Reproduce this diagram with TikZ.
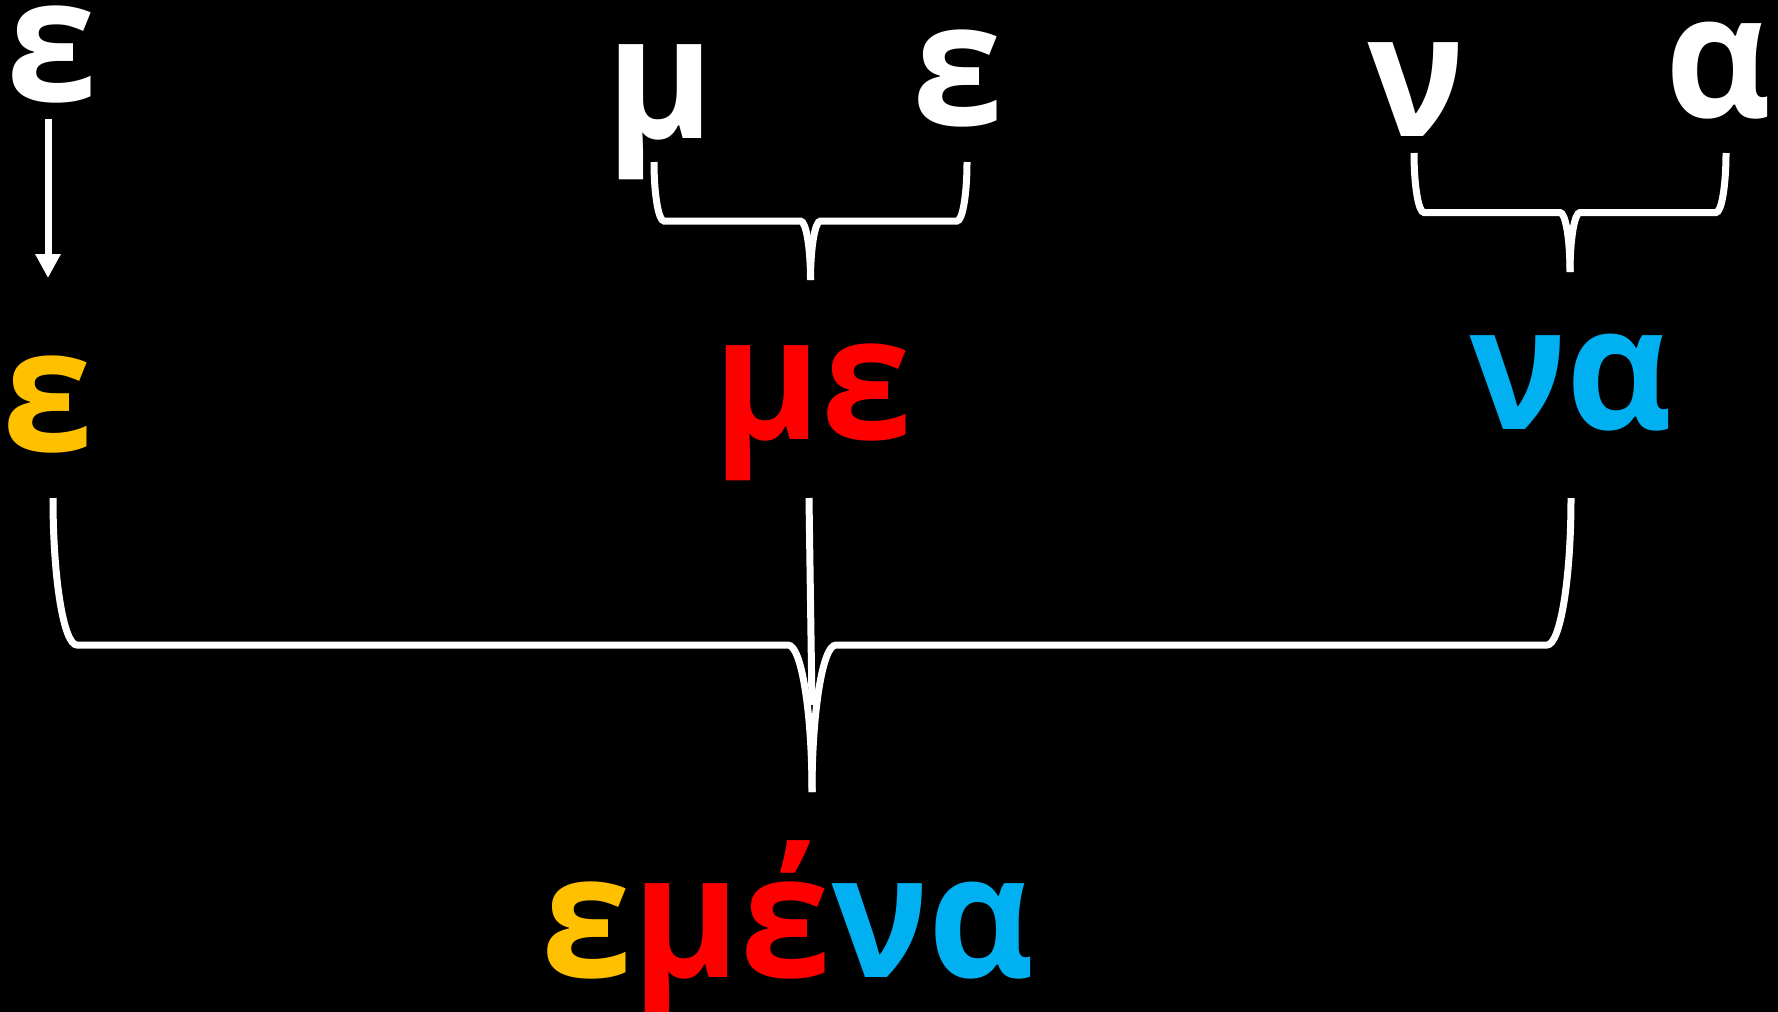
\documentclass[tikz,border=0pt]{standalone}
\usepackage{fontspec}
\setmainfont{Open Sans}[FakeStretch=0.95]
\usetikzlibrary{arrows.meta,positioning}
\definecolor{syly}{HTML}{FFC000}
\definecolor{sylr}{HTML}{FF0000}
\definecolor{sylc}{HTML}{00B0F0}
\tikzset{
  letter/.style={anchor=base, inner sep=0pt, text=white,
                 text height=1.05ex,
                 font=\fontsize{172pt}{180pt}\selectfont\bfseries},
  joinline/.style={draw=white, line width=7pt, line cap=butt},
  arr/.style={draw=white, line width=7pt,
              -{Triangle[length=24pt,width=24pt]}},
}
% brace below two ends: left x, right x, top y, tip y, curl radius
\newcommand{\grpbrace}[5]{%
  \pgfmathsetmacro\bym{(#3+#4)/2}
  \pgfmathsetmacro\bxm{(#1+#2)/2}
  \pgfmathsetmacro\bk{0.5523*(\bym-#3)}
  \pgfmathsetmacro\bq{0.5523*#5}
  \draw[joinline] (#1,#3) .. controls (#1,#3+\bk) and (#1+#5-\bq,\bym) .. (#1+#5,\bym)
    -- (\bxm-#5,\bym) .. controls (\bxm-#5+\bq,\bym) and (\bxm,#4-\bk) .. (\bxm,#4);
  \draw[joinline] (#2,#3) .. controls (#2,#3+\bk) and (#2-#5+\bq,\bym) .. (#2-#5,\bym)
    -- (\bxm+#5,\bym) .. controls (\bxm+#5-\bq,\bym) and (\bxm,#4-\bk) .. (\bxm,#4);
}

\begin{document}
\begin{tikzpicture}[x=1pt, y=-1pt]

\fill[black] (0,0) rectangle (1778,1012);
\useasboundingbox (0,0) rectangle (1778,1012);

% top row
\node[letter] (e0) at (52,101) {ε};
\node[letter] (m0) at (660,138) {μ};
\node[letter] (e1) at (958,125) {ε};
\node[letter] (n0) at (1416,136) {ν};
\node[letter] (a0) at (1718,117) {α};

% middle row
\node[letter, text=syly] (e2) at (48,451) {ε};
\node[letter, text=sylr] (me) at (813,439) {με};
\node[letter, text=sylc] (na) at (1571,429) {να};

% result
\node[letter] (word) at (788,977)
  {{\color{syly}ε}{\color{sylr}μέ}{\color{sylc}να}};

\coordinate (arrtop) at (48,119);
\coordinate (arrend) at (48,278);
\draw[arr] (arrtop) -- (arrend);

\grpbrace{654}{967}{162}{280}{10}
\grpbrace{1414}{1726}{153}{272}{10}
\grpbrace{53}{1571}{498}{792}{24}

\coordinate (metop) at (809,498);
\coordinate (mebot) at (812,705);
\draw[joinline] (metop) -- (mebot);

\end{tikzpicture}
\end{document}
